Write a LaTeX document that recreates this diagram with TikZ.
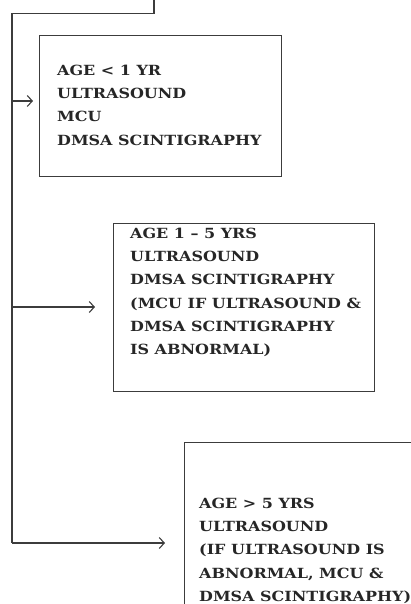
\documentclass[tikz,border=0pt]{standalone}
\usepackage{fontspec}
\setmainfont{DejaVu Serif}[BoldFeatures={FakeStretch=1.14}]
\usetikzlibrary{arrows.meta}
\definecolor{ink}{HTML}{262626}
\definecolor{linec}{HTML}{3C3C3C}
\tikzset{
  conn/.style={draw=linec, line width=1.2pt},
  arr/.style={conn, -{Straight Barb[length=5pt,width=11pt,line width=1.1pt]}},
  boxn/.style={draw=linec, line width=1.2pt, rectangle, inner sep=0pt, anchor=north west},
  txt/.style={text=ink, align=left, inner sep=0pt, anchor=north west,
    font=\fontsize{14}{23.2}\selectfont\bfseries}
}
\begin{document}
\begin{tikzpicture}[x=1pt,y=-1pt]
\useasboundingbox (0,0) rectangle (411,604);
\clip (0,0) rectangle (411,604);
% boxes
\node[boxn, minimum width=242pt, minimum height=141pt] (b1) at (39,35) {};
\node[boxn, minimum width=261pt, minimum height=168pt] (b2) at (113,223) {};
\node[boxn, minimum width=240pt, minimum height=180pt] (b3) at (184,442) {};
% texts
\node[txt] (t1) at (57,65) {AGE < 1 YR\\ULTRASOUND\\MCU\\DMSA SCINTIGRAPHY};
\node[txt] (t2) at (130,228) {AGE 1 – 5 YRS\\ULTRASOUND\\DMSA SCINTIGRAPHY\\(MCU IF ULTRASOUND \&\\DMSA SCINTIGRAPHY\\IS ABNORMAL)};
\node[txt] (t3) at (199,498) {AGE > 5 YRS\\ULTRASOUND\\(IF ULTRASOUND IS\\ABNORMAL, MCU \&\\DMSA SCINTIGRAPHY)};
% connectors
\coordinate (top) at (154,-5);
\coordinate (k1) at (154,13.5);
\coordinate (k0) at (12,13.5);
\coordinate (j1) at (12,101);
\coordinate (j2) at (12,307);
\coordinate (j3) at (12,543);
\draw[conn] (top) -- (k1) -- (k0) -- (j3);
\draw[arr, shorten >=6pt] (j1) -- (j1 -| b1.west);
\draw[arr, shorten >=18pt] (j2) -- (j2 -| b2.west);
\draw[arr, shorten >=19pt] (j3) -- (j3 -| b3.west);
\end{tikzpicture}
\end{document}
